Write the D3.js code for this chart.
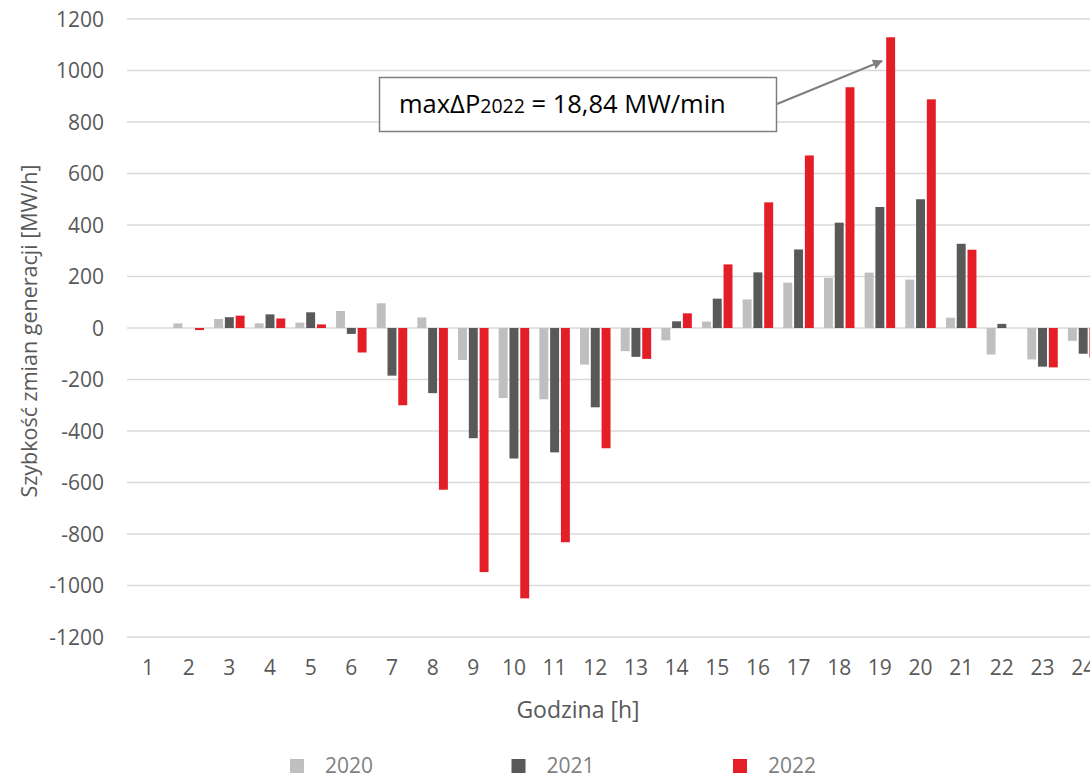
<!DOCTYPE html>
<html>
<head>
<meta charset="utf-8">
<script src="https://cdn.jsdelivr.net/npm/d3@7"></script>
<style>
  html, body { margin: 0; padding: 0; background: #fff; }
  svg { display: block; font-family: "Open Sans", "DejaVu Sans", sans-serif; }
</style>
</head>
<body>
<svg id="chart" width="1090" height="780"></svg>
<script>
const hours = ["1","2","3","4","5","6","7","8","9","10","11","12","13","14","15","16","17","18","19","20","21","22","23","24"];
const series = ["2020", "2021", "2022"];
const values2020 = [0, 18, 35, 18, 21, 66, 96, 41, -124, -272, -277, -142, -90, -48, 25, 111, 176, 195, 215, 188, 40, -103, -122, -50];
const values2021 = [0, 0, 42, 53, 61, -23, -185, -253, -428, -507, -483, -308, -112, 26, 114, 216, 305, 409, 470, 500, 327, 16, -150, -100];
const values2022 = [0, -8, 48, 37, 14, -95, -300, -628, -948, -1050, -832, -467, -120, 57, 247, 488, 670, 935, 1129, 888, 304, 0, -153, -115];
const yTicks = [-1200, -1000, -800, -600, -400, -200, 0, 200, 400, 600, 800, 1000, 1200];
const colors = ["#bfbfbf", "#595959", "#e41e26"];
const yTitle = "Szybkość zmian generacji [MW/h]";
const xTitle = "Godzina [h]";

const seriesValues = [values2020, values2021, values2022];
const svg = d3.select("#chart");
svg.append("rect").attr("width", 1090).attr("height", 780).attr("fill", "#fff");

const plotLeft = 127.7, plotRight = 1103.5;
const x0 = d3.scaleBand().domain(hours).range([plotLeft, plotRight]).paddingInner(0.25).paddingOuter(0.125);
const x1 = d3.scaleBand().domain(series).range([0, x0.bandwidth()]).paddingInner(0.17).paddingOuter(0);
const y = d3.scaleLinear().domain([-1200, 1200]).range([637, 19]);

// gridlines
svg.append("g").selectAll("line").data(yTicks).join("line")
  .attr("x1", 127).attr("x2", 1090)
  .attr("y1", d => y(d)).attr("y2", d => y(d))
  .attr("stroke", "#d9d9d9").attr("stroke-width", 1.5);

// y tick labels
svg.append("g").selectAll("text").data(yTicks).join("text")
  .attr("x", 104).attr("y", d => y(d)).attr("dy", "0.36em")
  .attr("text-anchor", "end").attr("font-size", 21).attr("fill", "#595959")
  .text(d => d);

// x tick labels
svg.append("g").selectAll("text").data(hours).join("text")
  .attr("x", d => x0(d) + x0.bandwidth() / 2).attr("y", 675)
  .attr("text-anchor", "middle").attr("font-size", 21).attr("fill", "#595959")
  .text(d => d);

// bars
const barData = [];
hours.forEach((h, i) => series.forEach((s, j) => barData.push({h, s, j, v: seriesValues[j][i]})));
svg.append("g").selectAll("rect").data(barData.filter(d => d.v !== 0)).join("rect")
  .attr("x", d => x0(d.h) + x1(d.s))
  .attr("width", x1.bandwidth())
  .attr("y", d => Math.min(y(d.v), y(0)))
  .attr("height", d => Math.abs(y(d.v) - y(0)))
  .attr("fill", d => colors[d.j]);

// axis titles
svg.append("text").attr("transform", "translate(37,331) rotate(-90)")
  .attr("text-anchor", "middle").attr("font-size", 21.5).attr("fill", "#595959")
  .text(yTitle);
svg.append("text").attr("x", 578).attr("y", 718)
  .attr("text-anchor", "middle").attr("font-size", 23).attr("fill", "#595959")
  .text(xTitle);

// legend
const legendX = [290, 511.5, 733];
const lg = svg.append("g").selectAll("g").data(series).join("g")
  .attr("transform", (d, i) => `translate(${legendX[i]},0)`);
lg.append("rect").attr("x", 0).attr("y", 759).attr("width", 14).attr("height", 14)
  .attr("fill", (d, i) => colors[i]);
lg.append("text").attr("x", 35).attr("y", 773).attr("font-size", 21).attr("fill", "#7f7f7f")
  .text(d => d);

// annotation
const defs = svg.append("defs");
defs.append("marker").attr("id", "arrow").attr("viewBox", "0 0 10 10")
  .attr("refX", 9).attr("refY", 5).attr("markerWidth", 5).attr("markerHeight", 5)
  .attr("orient", "auto-start-reverse")
  .append("path").attr("d", "M0,0 L10,5 L0,10 z").attr("fill", "#7f7f7f");
svg.append("line").attr("x1", 777).attr("y1", 104).attr("x2", 882).attr("y2", 61)
  .attr("stroke", "#7f7f7f").attr("stroke-width", 2).attr("marker-end", "url(#arrow)");
svg.append("rect").attr("x", 379.5).attr("y", 77.5).attr("width", 397).attr("height", 54)
  .attr("fill", "#fff").attr("stroke", "#7f7f7f").attr("stroke-width", 1.5);
const ann = svg.append("text").attr("x", 399).attr("y", 113).attr("font-size", 25.5).attr("fill", "#000");
ann.append("tspan").text("maxΔP");
ann.append("tspan").attr("font-size", 19.5).text("2022");
ann.append("tspan").text(" = 18,84 MW/min");
</script>
</body>
</html>
